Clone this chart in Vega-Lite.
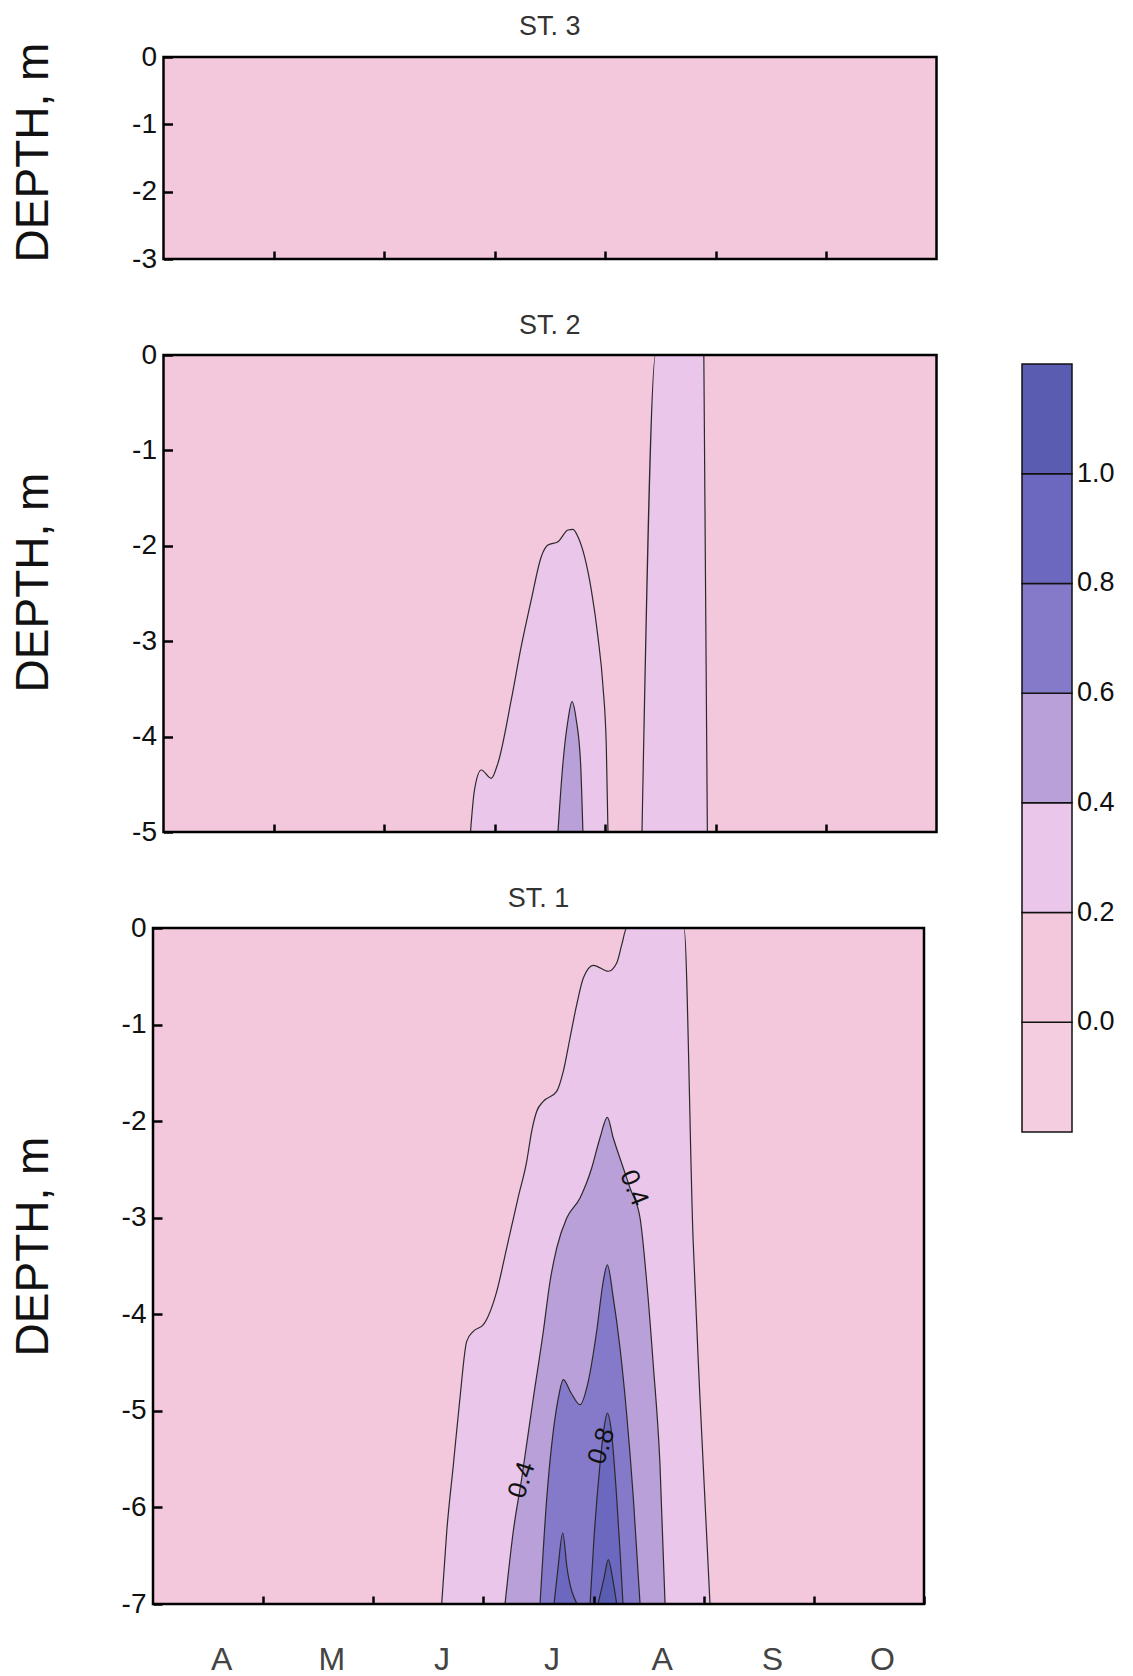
{
  "$schema": "https://vega.github.io/schema/vega-lite/v6.json",
  "background": "white",
  "padding": {"left": 10, "top": 13, "right": 5, "bottom": 5},
  "config": {
    "font": "Liberation Sans",
    "view": {"stroke": null},
    "axis": {"domain": false, "grid": false, "tickColor": "black", "tickWidth": 2.5, "labelFont": "Liberation Sans", "labelColor": "#111", "titleFont": "Liberation Sans", "titleFontWeight": "normal", "titleColor": "#111", "labelFlush": false, "labelOverlap": false},
    "title": {"fontSize": 27, "fontWeight": "normal", "color": "#333", "offset": 1, "baseline": "alphabetic", "frame": "group", "anchor": "middle"}
  },
  "datasets": {
    "contours": [
      {"station": "ST. 3", "region": "bg", "level": 0.1, "t": 0, "depth": 0},
      {"station": "ST. 3", "region": "bg", "level": 0.1, "t": 7, "depth": 0},
      {"station": "ST. 2", "region": "bg", "level": 0.1, "t": 0, "depth": 0},
      {"station": "ST. 2", "region": "bg", "level": 0.1, "t": 7, "depth": 0},
      {"station": "ST. 1", "region": "bg", "level": 0.1, "t": 0, "depth": 0},
      {"station": "ST. 1", "region": "bg", "level": 0.1, "t": 7, "depth": 0},

      {"station": "ST. 2", "region": "a", "level": 0.3, "t": 2.780, "depth": -5},
      {"station": "ST. 2", "region": "a", "level": 0.3, "t": 2.816, "depth": -4.560},
      {"station": "ST. 2", "region": "a", "level": 0.3, "t": 2.877, "depth": -4.350},
      {"station": "ST. 2", "region": "a", "level": 0.3, "t": 2.968, "depth": -4.437},
      {"station": "ST. 2", "region": "a", "level": 0.3, "t": 3.028, "depth": -4.280},
      {"station": "ST. 2", "region": "a", "level": 0.3, "t": 3.149, "depth": -3.616},
      {"station": "ST. 2", "region": "a", "level": 0.3, "t": 3.239, "depth": -3.058},
      {"station": "ST. 2", "region": "a", "level": 0.3, "t": 3.330, "depth": -2.568},
      {"station": "ST. 2", "region": "a", "level": 0.3, "t": 3.421, "depth": -2.114},
      {"station": "ST. 2", "region": "a", "level": 0.3, "t": 3.481, "depth": -1.992},
      {"station": "ST. 2", "region": "a", "level": 0.3, "t": 3.572, "depth": -1.957},
      {"station": "ST. 2", "region": "a", "level": 0.3, "t": 3.663, "depth": -1.834},
      {"station": "ST. 2", "region": "a", "level": 0.3, "t": 3.708, "depth": -1.827},
      {"station": "ST. 2", "region": "a", "level": 0.3, "t": 3.753, "depth": -1.905},
      {"station": "ST. 2", "region": "a", "level": 0.3, "t": 3.813, "depth": -2.114},
      {"station": "ST. 2", "region": "a", "level": 0.3, "t": 3.874, "depth": -2.463},
      {"station": "ST. 2", "region": "a", "level": 0.3, "t": 3.934, "depth": -2.953},
      {"station": "ST. 2", "region": "a", "level": 0.3, "t": 3.980, "depth": -3.477},
      {"station": "ST. 2", "region": "a", "level": 0.3, "t": 4.010, "depth": -4.106},
      {"station": "ST. 2", "region": "a", "level": 0.3, "t": 4.025, "depth": -5},
      {"station": "ST. 2", "region": "b", "level": 0.3, "t": 4.333, "depth": -5},
      {"station": "ST. 2", "region": "b", "level": 0.3, "t": 4.456, "depth": 0},
      {"station": "ST. 2", "region": "b", "level": 0.3, "t": 4.893, "depth": 0},
      {"station": "ST. 2", "region": "b", "level": 0.3, "t": 4.925, "depth": -5},
      {"station": "ST. 2", "region": "c", "level": 0.5, "t": 3.572, "depth": -5},
      {"station": "ST. 2", "region": "c", "level": 0.5, "t": 3.617, "depth": -4.280},
      {"station": "ST. 2", "region": "c", "level": 0.5, "t": 3.663, "depth": -3.826},
      {"station": "ST. 2", "region": "c", "level": 0.5, "t": 3.699, "depth": -3.634},
      {"station": "ST. 2", "region": "c", "level": 0.5, "t": 3.738, "depth": -3.826},
      {"station": "ST. 2", "region": "c", "level": 0.5, "t": 3.777, "depth": -4.280},
      {"station": "ST. 2", "region": "c", "level": 0.5, "t": 3.798, "depth": -5},

      {"station": "ST. 1", "region": "a", "level": 0.3, "t": 2.621, "depth": -7},
      {"station": "ST. 1", "region": "a", "level": 0.3, "t": 2.667, "depth": -6.247},
      {"station": "ST. 1", "region": "a", "level": 0.3, "t": 2.727, "depth": -5.558},
      {"station": "ST. 1", "region": "a", "level": 0.3, "t": 2.787, "depth": -4.867},
      {"station": "ST. 1", "region": "a", "level": 0.3, "t": 2.848, "depth": -4.280},
      {"station": "ST. 1", "region": "a", "level": 0.3, "t": 2.908, "depth": -4.176},
      {"station": "ST. 1", "region": "a", "level": 0.3, "t": 2.999, "depth": -4.108},
      {"station": "ST. 1", "region": "a", "level": 0.3, "t": 3.121, "depth": -3.762},
      {"station": "ST. 1", "region": "a", "level": 0.3, "t": 3.211, "depth": -3.314},
      {"station": "ST. 1", "region": "a", "level": 0.3, "t": 3.314, "depth": -2.796},
      {"station": "ST. 1", "region": "a", "level": 0.3, "t": 3.393, "depth": -2.416},
      {"station": "ST. 1", "region": "a", "level": 0.3, "t": 3.438, "depth": -2.105},
      {"station": "ST. 1", "region": "a", "level": 0.3, "t": 3.484, "depth": -1.898},
      {"station": "ST. 1", "region": "a", "level": 0.3, "t": 3.544, "depth": -1.795},
      {"station": "ST. 1", "region": "a", "level": 0.3, "t": 3.665, "depth": -1.691},
      {"station": "ST. 1", "region": "a", "level": 0.3, "t": 3.725, "depth": -1.484},
      {"station": "ST. 1", "region": "a", "level": 0.3, "t": 3.786, "depth": -1.139},
      {"station": "ST. 1", "region": "a", "level": 0.3, "t": 3.847, "depth": -0.794},
      {"station": "ST. 1", "region": "a", "level": 0.3, "t": 3.907, "depth": -0.518},
      {"station": "ST. 1", "region": "a", "level": 0.3, "t": 3.998, "depth": -0.386},
      {"station": "ST. 1", "region": "a", "level": 0.3, "t": 4.134, "depth": -0.448},
      {"station": "ST. 1", "region": "a", "level": 0.3, "t": 4.210, "depth": -0.362},
      {"station": "ST. 1", "region": "a", "level": 0.3, "t": 4.256, "depth": -0.173},
      {"station": "ST. 1", "region": "a", "level": 0.3, "t": 4.301, "depth": 0},
      {"station": "ST. 1", "region": "a", "level": 0.3, "t": 4.821, "depth": 0},
      {"station": "ST. 1", "region": "a", "level": 0.3, "t": 4.903, "depth": -3.210},
      {"station": "ST. 1", "region": "a", "level": 0.3, "t": 4.966, "depth": -4.867},
      {"station": "ST. 1", "region": "a", "level": 0.3, "t": 5.057, "depth": -7},
      {"station": "ST. 1", "region": "b", "level": 0.5, "t": 3.196, "depth": -7},
      {"station": "ST. 1", "region": "b", "level": 0.5, "t": 3.271, "depth": -6.247},
      {"station": "ST. 1", "region": "b", "level": 0.5, "t": 3.348, "depth": -5.695},
      {"station": "ST. 1", "region": "b", "level": 0.5, "t": 3.453, "depth": -4.867},
      {"station": "ST. 1", "region": "b", "level": 0.5, "t": 3.544, "depth": -4.176},
      {"station": "ST. 1", "region": "b", "level": 0.5, "t": 3.605, "depth": -3.658},
      {"station": "ST. 1", "region": "b", "level": 0.5, "t": 3.665, "depth": -3.314},
      {"station": "ST. 1", "region": "b", "level": 0.5, "t": 3.756, "depth": -3.003},
      {"station": "ST. 1", "region": "b", "level": 0.5, "t": 3.877, "depth": -2.796},
      {"station": "ST. 1", "region": "b", "level": 0.5, "t": 3.983, "depth": -2.485},
      {"station": "ST. 1", "region": "b", "level": 0.5, "t": 4.058, "depth": -2.175},
      {"station": "ST. 1", "region": "b", "level": 0.5, "t": 4.125, "depth": -1.960},
      {"station": "ST. 1", "region": "b", "level": 0.5, "t": 4.179, "depth": -2.175},
      {"station": "ST. 1", "region": "b", "level": 0.5, "t": 4.270, "depth": -2.485},
      {"station": "ST. 1", "region": "b", "level": 0.5, "t": 4.331, "depth": -2.692},
      {"station": "ST. 1", "region": "b", "level": 0.5, "t": 4.422, "depth": -3.003},
      {"station": "ST. 1", "region": "b", "level": 0.5, "t": 4.482, "depth": -3.658},
      {"station": "ST. 1", "region": "b", "level": 0.5, "t": 4.542, "depth": -4.522},
      {"station": "ST. 1", "region": "b", "level": 0.5, "t": 4.603, "depth": -5.558},
      {"station": "ST. 1", "region": "b", "level": 0.5, "t": 4.649, "depth": -7},
      {"station": "ST. 1", "region": "c", "level": 0.7, "t": 3.514, "depth": -7},
      {"station": "ST. 1", "region": "c", "level": 0.7, "t": 3.575, "depth": -5.902},
      {"station": "ST. 1", "region": "c", "level": 0.7, "t": 3.634, "depth": -5.212},
      {"station": "ST. 1", "region": "c", "level": 0.7, "t": 3.680, "depth": -4.867},
      {"station": "ST. 1", "region": "c", "level": 0.7, "t": 3.725, "depth": -4.677},
      {"station": "ST. 1", "region": "c", "level": 0.7, "t": 3.796, "depth": -4.815},
      {"station": "ST. 1", "region": "c", "level": 0.7, "t": 3.877, "depth": -4.936},
      {"station": "ST. 1", "region": "c", "level": 0.7, "t": 3.952, "depth": -4.694},
      {"station": "ST. 1", "region": "c", "level": 0.7, "t": 4.028, "depth": -4.176},
      {"station": "ST. 1", "region": "c", "level": 0.7, "t": 4.088, "depth": -3.658},
      {"station": "ST. 1", "region": "c", "level": 0.7, "t": 4.125, "depth": -3.487},
      {"station": "ST. 1", "region": "c", "level": 0.7, "t": 4.179, "depth": -3.831},
      {"station": "ST. 1", "region": "c", "level": 0.7, "t": 4.240, "depth": -4.349},
      {"station": "ST. 1", "region": "c", "level": 0.7, "t": 4.301, "depth": -5.040},
      {"station": "ST. 1", "region": "c", "level": 0.7, "t": 4.361, "depth": -5.902},
      {"station": "ST. 1", "region": "c", "level": 0.7, "t": 4.422, "depth": -7},
      {"station": "ST. 1", "region": "d", "level": 0.9, "t": 3.641, "depth": -7},
      {"station": "ST. 1", "region": "d", "level": 0.9, "t": 3.677, "depth": -6.627},
      {"station": "ST. 1", "region": "d", "level": 0.9, "t": 3.720, "depth": -6.265},
      {"station": "ST. 1", "region": "d", "level": 0.9, "t": 3.759, "depth": -6.627},
      {"station": "ST. 1", "region": "d", "level": 0.9, "t": 3.850, "depth": -7},
      {"station": "ST. 1", "region": "e", "level": 0.9, "t": 3.968, "depth": -7},
      {"station": "ST. 1", "region": "e", "level": 0.9, "t": 4.004, "depth": -6.317},
      {"station": "ST. 1", "region": "e", "level": 0.9, "t": 4.058, "depth": -5.558},
      {"station": "ST. 1", "region": "e", "level": 0.9, "t": 4.095, "depth": -5.178},
      {"station": "ST. 1", "region": "e", "level": 0.9, "t": 4.125, "depth": -5.022},
      {"station": "ST. 1", "region": "e", "level": 0.9, "t": 4.158, "depth": -5.178},
      {"station": "ST. 1", "region": "e", "level": 0.9, "t": 4.210, "depth": -5.902},
      {"station": "ST. 1", "region": "e", "level": 0.9, "t": 4.244, "depth": -6.524},
      {"station": "ST. 1", "region": "e", "level": 0.9, "t": 4.267, "depth": -7},
      {"station": "ST. 1", "region": "f", "level": 1.1, "t": 4.040, "depth": -7},
      {"station": "ST. 1", "region": "f", "level": 1.1, "t": 4.095, "depth": -6.731},
      {"station": "ST. 1", "region": "f", "level": 1.1, "t": 4.134, "depth": -6.541},
      {"station": "ST. 1", "region": "f", "level": 1.1, "t": 4.172, "depth": -6.731},
      {"station": "ST. 1", "region": "f", "level": 1.1, "t": 4.210, "depth": -7}
    ],
    "labels": [
      {"station": "ST. 1", "label": "0.4", "t": 4.367, "depth": -2.692, "reading": "down"},
      {"station": "ST. 1", "label": "0.4", "t": 3.348, "depth": -5.716, "reading": "up"},
      {"station": "ST. 1", "label": "0.8", "t": 4.072, "depth": -5.364, "reading": "up"}
    ]
  },
  "concat": [
    {
      "title": {"text": "ST. 3", "dx": 5},
      "width": 783.5, "height": 202,
      "data": {"name": "contours"},
      "transform": [{"filter": "datum.station == 'ST. 3'"}],
      "encoding": {
        "x": {"field": "t", "type": "quantitative", "scale": {"domain": [-0.0951, 7], "nice": false, "zero": false},
              "axis": {"title": null, "zindex": 1, "values": [1, 2, 3, 4, 5, 6], "labels": false, "tickSize": -8}},
        "y": {"field": "depth", "type": "quantitative", "scale": {"domain": [-3, 0], "nice": false, "zero": false},
              "axis": {"title": "DEPTH, m", "zindex": 1, "titleFontSize": 46, "titlePadding": 74, "titleY": 95, "offset": -10.5, "values": [0, -1, -2, -3], "labelExpr": "datum.value == 0 ? '0' : '-' + abs(datum.value)", "labelFontSize": 28, "labelPadding": 16, "tickSize": -9}},
        "y2": {"datum": -3},
        "color": {"field": "level", "type": "quantitative",
          "scale": {"type": "threshold", "domain": [0, 0.2, 0.4, 0.6, 0.8, 1.0], "range": ["#f4cde0", "#f3c8dc", "#eac6ea", "#b9a0d8", "#857ac9", "#6c68bf", "#5a5cb2"]},
          "legend": {"type": "gradient", "direction": "vertical", "orient": "none", "legendX": 869, "legendY": 307, "gradientLength": 768, "gradientThickness": 50, "title": null, "labelFontSize": 27, "labelOffset": 5, "labelColor": "#111", "format": ".1f", "encoding": {"gradient": {"stroke": {"value": "#111"}, "strokeWidth": {"value": 1.5}}}}}
      },
      "layer": [
        {"transform": [{"filter": "datum.level == 0.1"}], "mark": {"type": "area", "clip": true}},
        {"transform": [{"filter": "datum.level == 0.1"}], "mark": {"type": "area", "filled": false, "strokeWidth": 2.5}, "encoding": {"color": {"value": "black"}}}
      ]
    },
    {
      "title": {"text": "ST. 2", "dx": 5},
      "width": 783.5, "height": 477,
      "data": {"name": "contours"},
      "transform": [{"filter": "datum.station == 'ST. 2'"}],
      "encoding": {
        "x": {"field": "t", "type": "quantitative", "scale": {"domain": [-0.0951, 7], "nice": false, "zero": false},
              "axis": {"title": null, "zindex": 1, "values": [1, 2, 3, 4, 5, 6], "labels": false, "tickSize": -8}},
        "y": {"field": "depth", "type": "quantitative", "scale": {"domain": [-5, 0], "nice": false, "zero": false},
              "axis": {"title": "DEPTH, m", "zindex": 1, "titleFontSize": 46, "titlePadding": 74, "titleY": 227, "offset": -10.5, "values": [0, -1, -2, -3, -4, -5], "labelExpr": "datum.value == 0 ? '0' : '-' + abs(datum.value)", "labelFontSize": 28, "labelPadding": 16, "tickSize": -9}},
        "y2": {"datum": -5},
        "color": {"field": "level", "type": "quantitative",
          "scale": {"type": "threshold", "domain": [0, 0.2, 0.4, 0.6, 0.8, 1.0], "range": ["#f4cde0", "#f3c8dc", "#eac6ea", "#b9a0d8", "#857ac9", "#6c68bf", "#5a5cb2"]},
          "legend": {"type": "gradient", "direction": "vertical", "orient": "none", "legendX": 869, "legendY": 307, "gradientLength": 768, "gradientThickness": 50, "title": null, "labelFontSize": 27, "labelOffset": 5, "labelColor": "#111", "format": ".1f", "encoding": {"gradient": {"stroke": {"value": "#111"}, "strokeWidth": {"value": 1.5}}}}}
      },
      "layer": [
        {"transform": [{"filter": "datum.level == 0.1"}], "mark": {"type": "area", "clip": true}},
        {"transform": [{"filter": "datum.level == 0.3"}], "mark": {"type": "area", "interpolate": "monotone", "clip": true, "stroke": "#2a2a2a", "strokeWidth": 1.2}, "encoding": {"detail": {"field": "region"}}},
        {"transform": [{"filter": "datum.level == 0.5"}], "mark": {"type": "area", "interpolate": "monotone", "clip": true, "stroke": "#2a2a2a", "strokeWidth": 1.2}, "encoding": {"detail": {"field": "region"}}},
        {"transform": [{"filter": "datum.level == 0.1"}], "mark": {"type": "area", "filled": false, "strokeWidth": 2.5}, "encoding": {"color": {"value": "black"}}}
      ]
    },
    {
      "title": {"text": "ST. 1"},
      "width": 771, "height": 676,
      "data": {"name": "contours"},
      "transform": [{"filter": "datum.station == 'ST. 1'"}],
      "encoding": {
        "x": {"field": "t", "type": "quantitative", "scale": {"domain": [0, 7], "nice": false, "zero": false},
              "axis": {"title": null, "zindex": 1, "values": [1, 2, 3, 4, 5, 6, 7], "labelExpr": "['A','M','J','J','A','S','O'][datum.value - 1]", "labelOffset": -42, "labelFontSize": 32, "labelColor": "#444", "labelPadding": 48, "tickSize": -8}},
        "y": {"field": "depth", "type": "quantitative", "scale": {"domain": [-7, 0], "nice": false, "zero": false},
              "axis": {"title": "DEPTH, m", "zindex": 1, "titleFontSize": 46, "titlePadding": 64, "titleY": 318, "values": [0, -1, -2, -3, -4, -5, -6, -7], "labelExpr": "datum.value == 0 ? '0' : '-' + abs(datum.value)", "labelFontSize": 28, "labelPadding": 16, "tickSize": -9}},
        "y2": {"datum": -7},
        "color": {"field": "level", "type": "quantitative",
          "scale": {"type": "threshold", "domain": [0, 0.2, 0.4, 0.6, 0.8, 1.0], "range": ["#f4cde0", "#f3c8dc", "#eac6ea", "#b9a0d8", "#857ac9", "#6c68bf", "#5a5cb2"]},
          "legend": {"type": "gradient", "direction": "vertical", "orient": "none", "legendX": 869, "legendY": 307, "gradientLength": 768, "gradientThickness": 50, "title": null, "labelFontSize": 27, "labelOffset": 5, "labelColor": "#111", "format": ".1f", "encoding": {"gradient": {"stroke": {"value": "#111"}, "strokeWidth": {"value": 1.5}}}}}
      },
      "layer": [
        {"transform": [{"filter": "datum.level == 0.1"}], "mark": {"type": "area", "clip": true}},
        {"transform": [{"filter": "datum.level == 0.3"}], "mark": {"type": "area", "interpolate": "monotone", "clip": true, "stroke": "#2a2a2a", "strokeWidth": 1.2}, "encoding": {"detail": {"field": "region"}}},
        {"transform": [{"filter": "datum.level == 0.5"}], "mark": {"type": "area", "interpolate": "monotone", "clip": true, "stroke": "#2a2a2a", "strokeWidth": 1.2}, "encoding": {"detail": {"field": "region"}}},
        {"transform": [{"filter": "datum.level == 0.7"}], "mark": {"type": "area", "interpolate": "monotone", "clip": true, "stroke": "#2a2a2a", "strokeWidth": 1.2}, "encoding": {"detail": {"field": "region"}}},
        {"transform": [{"filter": "datum.level == 0.9"}], "mark": {"type": "area", "interpolate": "monotone", "clip": true, "stroke": "#2a2a2a", "strokeWidth": 1.2}, "encoding": {"detail": {"field": "region"}}},
        {"transform": [{"filter": "datum.level == 1.1"}], "mark": {"type": "area", "interpolate": "monotone", "clip": true, "stroke": "#2a2a2a", "strokeWidth": 1.2}, "encoding": {"detail": {"field": "region"}}},
        {"data": {"name": "labels"}, "transform": [{"filter": "datum.reading == 'down'"}], "mark": {"type": "text", "angle": 68, "fontSize": 26, "font": "Liberation Sans"}, "encoding": {"text": {"field": "label"}, "color": {"value": "#111"}}},
        {"data": {"name": "labels"}, "transform": [{"filter": "datum.reading == 'up'"}], "mark": {"type": "text", "angle": 288, "fontSize": 26, "font": "Liberation Sans"}, "encoding": {"text": {"field": "label"}, "color": {"value": "#111"}}},
        {"transform": [{"filter": "datum.level == 0.1"}], "mark": {"type": "area", "filled": false, "strokeWidth": 2.5}, "encoding": {"color": {"value": "black"}}}
      ]
    }
  ],
  "columns": 1,
  "spacing": 39,
  "resolve": {"scale": {"color": "shared"}}
}
